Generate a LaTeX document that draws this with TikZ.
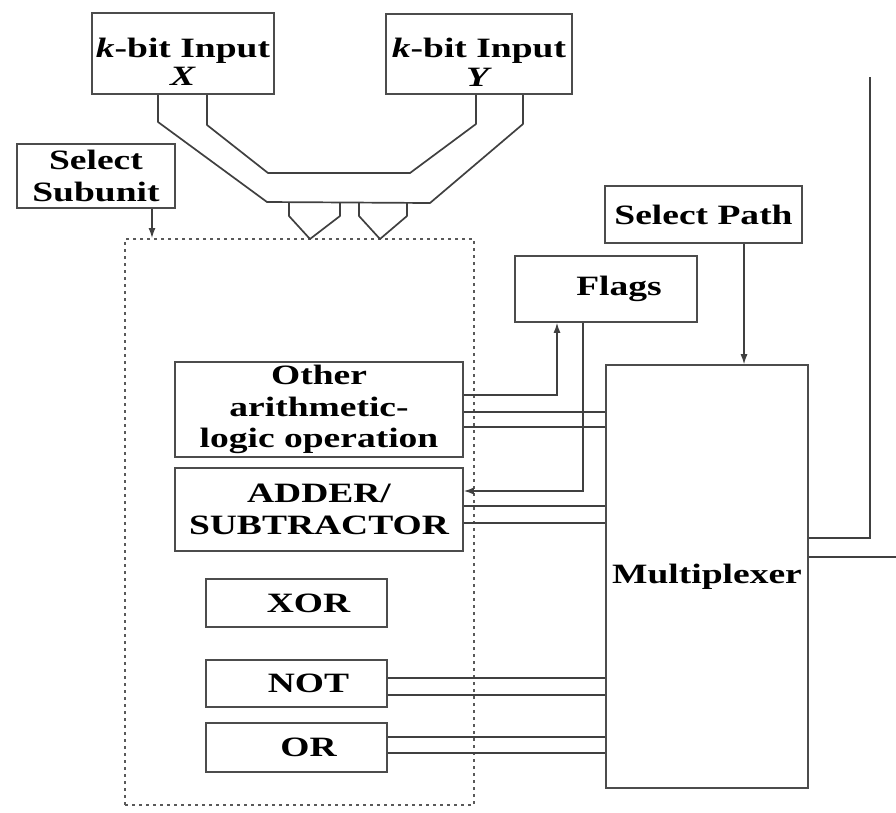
\documentclass[tikz,border=0pt]{standalone}
\usepackage{fontspec}
\setmainfont{Liberation Serif}[FakeStretch=1.34]
\usepackage{tikz}
\usetikzlibrary{arrows.meta,positioning}
\tikzset{
  alu/.style={x=1pt, y=-1pt, >={Latex[length=10pt,width=7pt]},
    line width=1.3pt, draw=black!75},
  blk/.style={
    rectangle, draw=black!70, line width=1.6pt, inner sep=0pt,
    align=center, font=\fontsize{28}{31.5}\selectfont\bfseries
  },
  grp/.style={blk, draw=black!65, line width=2pt, dash pattern=on 3pt off 4pt},
  bus/.style={draw=black!75, line width=1.7pt, line join=round},
}

\begin{document}
\begin{tikzpicture}[alu]
  \useasboundingbox (0,0) rectangle (896,812);
  \node[grp, minimum width=349pt, minimum height=566pt] (unit) at (299.5,522) {};
  \node[blk, minimum width=182pt, minimum height=81pt] (inx) at (183,53.5) {\rule{0pt}{36pt}\textit{k}-bit Input\\[-3pt]\textit{X}};
  \node[blk, minimum width=186pt, minimum height=80pt] (iny) at (479,54) {\rule{0pt}{36pt}\textit{k}-bit Input\\[-3pt]\textit{Y}};
  \node[blk, minimum width=158pt, minimum height=64pt] (selsub) at (96,176) {Select\\Subunit};
  \node[blk, minimum width=197pt, minimum height=57pt] (selpath) at (703.5,214.5) {Select Path};
  \node[blk, minimum width=182pt, minimum height=66pt] (flags) at (606,289) {\hspace*{26pt}Flags};
  \node[blk, minimum width=202pt, minimum height=423pt] (mux) at (707,576.5) {Multiplexer};
  \node[blk, minimum width=288pt, minimum height=95pt] (other) at (319,409.5) {Other\\arithmetic-\\logic operation};
  \node[blk, minimum width=288pt, minimum height=83pt] (adder) at (319,509.5) {ADDER/\\SUBTRACTOR};
  \node[blk, minimum width=181pt, minimum height=48pt] (xor) at (296.5,603) {\hspace*{24pt}XOR};
  \node[blk, minimum width=181pt, minimum height=47pt] (not) at (296.5,683.5) {\hspace*{24pt}NOT};
  \node[blk, minimum width=181pt, minimum height=49pt] (or) at (296.5,747.5) {\hspace*{24pt}OR};
  \coordinate (out1) at (870,77);
  \coordinate (out2) at (896,557);

  \draw[bus] (inx.south -| 158,0) -- (158,122) -- (267,202) -- (430,203)
    -- (523,124) -- (iny.south -| 523,0);
  \draw[bus] (inx.south -| 207,0) -- (207,125) -- (268,173) -- (410,173)
    -- (476,124) -- (iny.south -| 476,0);
  \draw[bus] (289,203) -- (289,216) -- (310,239) -- (340,216) -- (340,203);
  \draw[bus] (359,203) -- (359,216) -- (380,239) -- (407,216) -- (407,203);

  \draw[->] (selsub.south -| 152,0) -- (unit.north -| 152,0);
  \draw[->] (selpath.south -| 744,0) -- (mux.north -| 744,0);
  \draw[->] (other.east |- 0,395) -| (flags.south -| 557,0);
  \draw[->] (flags.south -| 583,0) |- (adder.east |- 0,491);
  \foreach \y in {412,427} \draw (other.east |- 0,\y) -- (mux.west |- 0,\y);
  \foreach \y in {506,523} \draw (adder.east |- 0,\y) -- (mux.west |- 0,\y);
  \foreach \y in {678,695} \draw (not.east |- 0,\y) -- (mux.west |- 0,\y);
  \foreach \y in {737,753} \draw (or.east |- 0,\y) -- (mux.west |- 0,\y);
  \draw (mux.east |- 0,538) -| (out1);
  \draw (mux.east |- out2) -- (out2);
\end{tikzpicture}
\end{document}
